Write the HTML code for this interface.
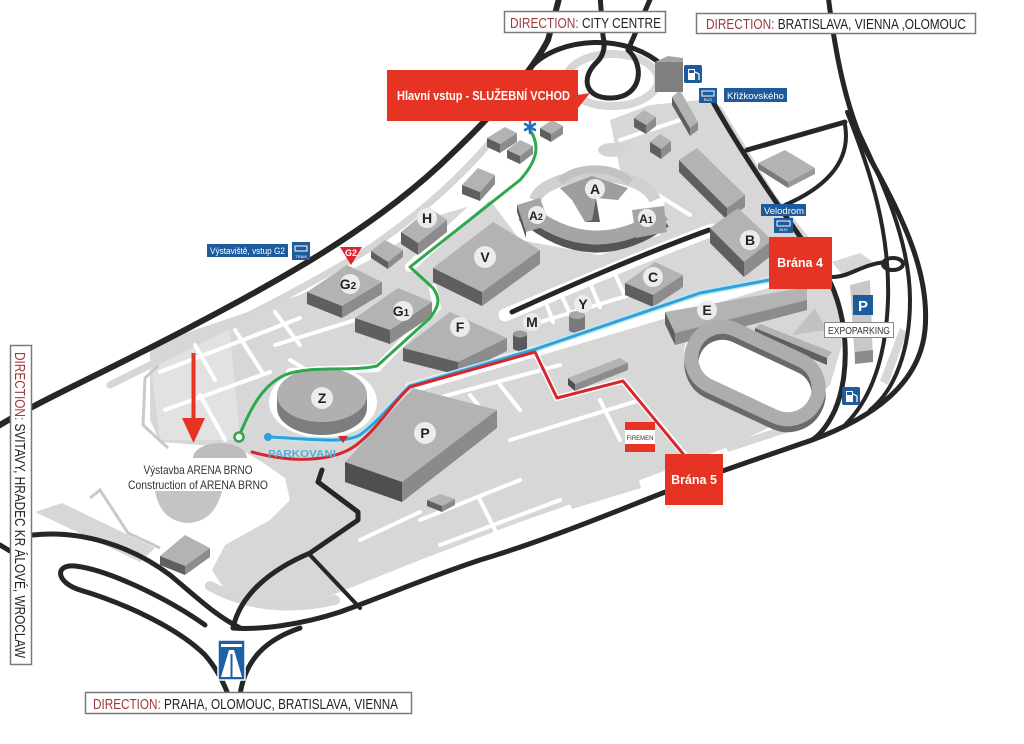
<!DOCTYPE html>
<html><head><meta charset="utf-8"><style>
html,body{margin:0;padding:0;background:#fff;}
svg{display:block;}
text{font-family:"Liberation Sans",sans-serif;}
</style></head><body>
<svg width="1024" height="744" viewBox="0 0 1024 744" xmlns="http://www.w3.org/2000/svg">
<rect width="1024" height="744" fill="#fff"/>

<!-- ground -->
<g fill="#d7d7d7">
<path d="M150,345 L230,318 L300,295 L380,255 L440,215 L490,200 L520,240 L600,255 L660,235 L665,200 L620,170 L610,120 L650,105 L700,100 L712,104 L745,160 L785,220 L820,268 L838,305 L842,345 L830,385 L800,412 L760,432 L720,450 L680,465 L640,480 L600,494 L560,508 L520,522 L470,541 L420,560 L370,580 L330,596 L290,604 L250,600 L225,590 L212,570 L225,545 L270,520 L290,500 L285,478 L262,462 L245,452 L225,447 L160,442 L150,420 Z"/>
<polygon points="35,512 62,503 155,548 140,562"/>
<polygon points="832,262 860,253 873,262 845,278"/>
<polygon points="900,328 907,332 888,385 880,381"/>
<polygon points="725,445 795,422 798,429 728,452"/>
<polygon points="569,502 639,480 641,488 572,509"/>
<polygon points="512,517 555,502 557,509 514,522"/>
</g>
<polygon points="150,360 230,330 240,440 160,440" fill="#e2e2e2"/>
<!-- light strips -->
<g fill="none" stroke="#d6d6d6" stroke-linecap="round">
<path d="M110,385 C 200,340 300,292 370,248 C 420,214 460,178 492,140" stroke-width="7"/>
<path d="M718,110 L772,198 L805,240" stroke-width="9"/>
<ellipse cx="612" cy="80" rx="46" ry="26" stroke-width="8"/>
<path d="M210,586 Q265,616 335,600" stroke-width="10"/>
</g>
<g fill="none" stroke="#c9c9c9" stroke-width="3">
<path d="M158,366 L145,378 L143,425 L168,448"/>
<path d="M90,498 L100,490 L128,533 L160,548"/>
</g>
<ellipse cx="612" cy="150" rx="14" ry="7" fill="#d3d3d3"/>

<!-- white lanes -->
<g fill="none" stroke="#fff" stroke-linecap="round">
<path d="M410,388 L533,352 L769,282" stroke-width="11"/>
<path d="M535,352 L557,398 L623,381 L684,454" stroke-width="6"/>
<path d="M537,150 L410,267" stroke-width="10"/>
<path d="M433,288 L437,307 L377,368 L290,372" stroke-width="8"/>
<path d="M505,315 C 560,292 640,257 712,230" stroke-width="13"/>
<g stroke-width="4">
<path d="M160,372 L300,318"/><path d="M195,345 L215,380"/><path d="M235,330 L262,372"/><path d="M275,312 L300,345"/>
<path d="M165,410 L270,372"/><path d="M200,395 L225,440"/>
<path d="M275,345 L355,320"/><path d="M290,360 L340,390"/>
<path d="M540,322 L640,292"/><path d="M560,292 L572,318"/><path d="M590,283 L600,307"/><path d="M615,274 L625,296"/><path d="M545,300 L553,322"/>
<path d="M430,400 L560,365"/><path d="M470,395 L490,420"/><path d="M500,385 L520,410"/>
<path d="M420,520 L520,480"/><path d="M360,540 L420,512"/><path d="M440,545 L560,500"/><path d="M480,500 L500,540"/>
<path d="M510,440 L640,400"/><path d="M600,400 L620,440"/>
<path d="M560,230 L600,250"/><path d="M650,190 L690,215"/><path d="M620,140 L680,120"/>
</g>
</g>
<ellipse cx="323" cy="402" rx="54" ry="36" fill="#fff"/>
<ellipse cx="755" cy="375" rx="76" ry="40" transform="rotate(25 755 375)" fill="#fff"/>

<!-- dark roads -->
<g fill="none" stroke="#262626" stroke-linecap="round" stroke-linejoin="round">
<path d="M-5,428 C 40,400 110,370 200,322 C 280,280 370,230 440,165 C 490,118 530,75 548,40 L 560,-5" stroke-width="6"/>
<path d="M533,65 C 560,38 625,32 662,65" stroke-width="5"/>
<path d="M652,-5 L628,50 C 645,65 642,97 612,98 C 585,99 580,78 597,62 C 603,56 606,48 603,36 L 600,-5" stroke-width="5"/>
<path d="M712,100 C 745,160 790,222 822,268 C 848,306 852,370 835,410 C 828,425 820,435 812,440" stroke-width="5"/>
<path d="M828,-5 C 836,60 848,118 872,162 C 905,222 930,275 925,330 C 920,380 880,415 812,440 C 760,458 700,478 650,498 C 580,526 530,545 480,560 C 420,580 380,598 340,612 C 300,625 260,630 233,628" stroke-width="5"/>
<path d="M847,112 C 870,170 890,230 888,300 C 886,360 870,400 845,425" stroke-width="4"/>
<path d="M852,118 C 882,180 910,240 910,300 C 910,350 895,390 870,410" stroke-width="4"/>
<path d="M747,150 L845,122" stroke-width="5"/>
<path d="M845,125 C 852,165 820,190 785,205" stroke-width="4"/>
<ellipse cx="893" cy="264" rx="10" ry="6" stroke-width="4"/>
<path d="M832,277 C 850,277 860,265 885,262" stroke-width="4"/>
<path d="M512,312 C 560,290 640,255 709,230" stroke-width="5"/>
<path d="M233,628 C 240,595 270,570 310,553 L 358,520 L 358,512 L 318,482 L 322,470" stroke-width="5"/>
<path d="M310,555 L360,608" stroke-width="4"/>
<path d="M33,535 C 80,530 130,545 170,575 C 200,600 215,615 240,628" stroke-width="5"/>
<path d="M205,625 C 170,600 110,570 75,566 C 55,564 55,582 80,590 C 130,605 180,630 205,655 C 218,670 225,685 230,700" stroke-width="5"/>
<path d="M240,695 C 245,660 265,640 300,628" stroke-width="5"/>
<path d="M0,545 L10,551" stroke-width="5"/>
</g>

<!-- arena shapes -->
<path d="M193,458 A27,15 0 0 1 247,458 Z" fill="#bdbdbd"/>
<path d="M155,491 L222,491 Q214,523 186,523 Q160,520 155,491 Z" fill="#c4c4c4"/>

<!-- buildings -->
<g>
<polygon points="433,268 493,222 540,250 482,292" fill="#b3b3b3"/>
<polygon points="433,268 482,292 482,306 433,282" fill="#5f5f5f"/>
<polygon points="482,292 540,250 540,264 482,306" fill="#8c8c8c"/>
<polygon points="401,232 430,208 447,220 418,243" fill="#b3b3b3"/>
<polygon points="401,232 418,243 418,255 401,244" fill="#5f5f5f"/>
<polygon points="418,243 447,220 447,232 418,255" fill="#8c8c8c"/>
<polygon points="371,251 385,240 403,250 388,262" fill="#b3b3b3"/>
<polygon points="371,251 388,262 388,269 371,258" fill="#5f5f5f"/>
<polygon points="388,262 403,250 403,257 388,269" fill="#8c8c8c"/>
<polygon points="307,292 347,265 382,282 342,306" fill="#b3b3b3"/>
<polygon points="307,292 342,306 342,318 307,304" fill="#5f5f5f"/>
<polygon points="342,306 382,282 382,294 342,318" fill="#8c8c8c"/>
<polygon points="355,318 398,288 432,302 390,330" fill="#b3b3b3"/>
<polygon points="355,318 390,330 390,344 355,332" fill="#5f5f5f"/>
<polygon points="390,330 432,302 432,316 390,344" fill="#8c8c8c"/>
<polygon points="403,348 450,312 507,338 458,362" fill="#b3b3b3"/>
<polygon points="403,348 458,362 458,375 403,361" fill="#5f5f5f"/>
<polygon points="458,362 507,338 507,351 458,375" fill="#8c8c8c"/>
<polygon points="625,283 655,262 683,275 653,295" fill="#b3b3b3"/>
<polygon points="625,283 653,295 653,307 625,295" fill="#5f5f5f"/>
<polygon points="653,295 683,275 683,287 653,307" fill="#8c8c8c"/>
<polygon points="679,160 697,148 745,195 727,208" fill="#b3b3b3"/>
<polygon points="679,160 727,208 727,220 679,172" fill="#5f5f5f"/>
<polygon points="727,208 745,195 745,207 727,220" fill="#8c8c8c"/>
<polygon points="710,228 738,208 772,240 744,262" fill="#b3b3b3"/>
<polygon points="710,228 744,262 744,277 710,243" fill="#5f5f5f"/>
<polygon points="744,262 772,240 772,255 744,277" fill="#8c8c8c"/>
<polygon points="758,163 785,150 815,168 788,182" fill="#b3b3b3"/>
<polygon points="758,163 788,182 788,188 758,169" fill="#7a7a7a"/>
<polygon points="788,182 815,168 815,174 788,188" fill="#999"/>
<polygon points="665,312 807,287 807,300 675,333" fill="#b3b3b3"/>
<polygon points="665,312 675,333 675,345 665,324" fill="#5f5f5f"/>
<polygon points="675,333 807,300 807,310 675,345" fill="#8c8c8c"/>
<polygon points="345,462 413,388 497,410 402,482" fill="#b3b3b3"/>
<polygon points="345,462 402,482 402,502 345,482" fill="#4f4f4f"/>
<polygon points="402,482 497,410 497,428 402,502" fill="#8a8a8a"/>
<polygon points="634,118 644,110 656,117 646,125" fill="#b3b3b3"/><polygon points="634,118 646,125 646,134 634,127" fill="#5f5f5f"/><polygon points="646,125 656,117 656,126 646,134" fill="#8c8c8c"/>
<polygon points="650,142 660,134 671,141 661,149" fill="#b3b3b3"/><polygon points="650,142 661,149 661,159 650,152" fill="#5f5f5f"/><polygon points="661,149 671,141 671,151 661,159" fill="#8c8c8c"/>
<polygon points="672,97 680,90 698,122 690,128" fill="#b3b3b3"/><polygon points="672,97 690,128 690,136 672,105" fill="#5f5f5f"/><polygon points="690,128 698,122 698,130 690,136" fill="#8c8c8c"/>
<polygon points="487,138 505,127 517,133 500,144" fill="#b3b3b3"/><polygon points="487,138 500,144 500,153 487,147" fill="#5f5f5f"/><polygon points="500,144 517,133 517,142 500,153" fill="#8c8c8c"/>
<polygon points="507,150 520,140 533,146 520,156" fill="#b3b3b3"/><polygon points="507,150 520,156 520,164 507,158" fill="#5f5f5f"/><polygon points="520,156 533,146 533,154 520,164" fill="#8c8c8c"/>
<polygon points="540,128 552,120 563,126 551,134" fill="#b3b3b3"/><polygon points="540,128 551,134 551,142 540,136" fill="#5f5f5f"/><polygon points="551,134 563,126 563,134 551,142" fill="#8c8c8c"/>
<polygon points="462,185 478,168 495,175 480,192" fill="#b3b3b3"/><polygon points="462,185 480,192 480,201 462,194" fill="#5f5f5f"/><polygon points="480,192 495,175 495,184 480,201" fill="#8c8c8c"/>
<polygon points="160,556 185,535 210,548 185,566" fill="#b3b3b3"/><polygon points="160,556 185,566 185,575 160,565" fill="#5f5f5f"/><polygon points="185,566 210,548 210,557 185,575" fill="#8c8c8c"/>
<polygon points="427,500 440,494 455,499 442,506" fill="#b3b3b3"/><polygon points="427,500 442,506 442,512 427,506" fill="#5f5f5f"/><polygon points="442,506 455,499 455,505 442,512" fill="#8c8c8c"/>
<polygon points="568,378 620,358 628,363 575,384" fill="#b3b3b3"/><polygon points="568,378 575,384 575,391 568,385" fill="#4f4f4f"/><polygon points="575,384 628,363 628,370 575,391" fill="#8c8c8c"/>
<polygon points="755,328 760,324 832,352 827,358" fill="#b3b3b3"/><polygon points="755,328 827,358 827,365 755,335" fill="#5f5f5f"/>
<polygon points="792,335 815,308 827,330" fill="#c2c2c2"/>
<polygon points="850,285 870,280 873,360 855,363" fill="#c8c8c8"/><polygon points="855,352 873,350 873,362 855,364" fill="#8c8c8c"/>
<rect x="655" y="62" width="28" height="30" fill="#7f7f7f"/>
<polygon points="655,62 668,56 683,58 683,62" fill="#a5a5a5"/>
<rect x="513" y="334" width="14" height="14" fill="#5a5a5a"/><ellipse cx="520" cy="348" rx="7" ry="3" fill="#5a5a5a"/><ellipse cx="520" cy="334" rx="7" ry="3.5" fill="#9a9a9a"/>
<rect x="569" y="315" width="16" height="15" fill="#7a7a7a"/><ellipse cx="577" cy="330" rx="8" ry="3" fill="#7a7a7a"/><ellipse cx="577" cy="315" rx="8" ry="4" fill="#a8a8a8"/>
<ellipse cx="322" cy="408" rx="45" ry="27" fill="#7d7d7d"/>
<rect x="277" y="395" width="90" height="13" fill="#7d7d7d"/>
<ellipse cx="322" cy="395" rx="45" ry="27" fill="#b0b0b0"/>
<!-- A complex -->
<path d="M535,200 C 545,170 640,165 655,200" fill="none" stroke="#d0d0d0" stroke-width="12"/>
<path d="M560,182 C 575,165 615,165 630,182" fill="none" stroke="#c2c2c2" stroke-width="8"/>
<path d="M524,214 Q592,272 664,220" fill="none" stroke="#555" stroke-width="16"/>
<path d="M524,208 Q592,264 664,214" fill="none" stroke="#a5a5a5" stroke-width="14"/>
<polygon points="560,188 592,176 628,188 618,200 596,198 592,220 585,222 572,200" fill="#9e9e9e"/>
<polygon points="585,222 592,220 596,198 600,222" fill="#5f5f5f"/>
<polygon points="517,205 540,198 550,225 526,232" fill="#a5a5a5"/>
<polygon points="517,205 526,232 526,238 517,212" fill="#555"/>
<polygon points="632,210 664,206 667,232 636,238" fill="#a5a5a5"/>
<!-- velodrome -->
<rect x="688" y="348" width="134" height="62" rx="31" transform="rotate(25 755 379)" fill="none" stroke="#6a6a6a" stroke-width="14"/>
<rect x="688" y="342" width="134" height="62" rx="31" transform="rotate(25 755 373)" fill="none" stroke="#adadad" stroke-width="14"/>
</g>

<!-- routes -->
<g fill="none" stroke-linecap="round" stroke-linejoin="round">
<path d="M530,130 C 540,145 538,160 520,180 L 410,267 L 433,288 C 440,298 440,305 430,318 L 377,366 C 350,372 310,365 285,375 C 262,385 250,410 240,434" stroke="#2ea84f" stroke-width="3"/>
<path d="M769,280 L700,293 L533,350 L410,386 C 395,400 380,420 360,435 C 345,443 320,440 271,437" stroke="#bfe6f5" stroke-width="6"/>
<path d="M769,280 L700,293 L533,350 L410,386 C 395,400 380,420 360,435 C 345,443 320,440 271,437" stroke="#2ea2d6" stroke-width="3"/>
<path d="M684,455 L623,381 L557,398 L535,352 L410,387 C 395,400 380,425 360,442 C 340,460 300,465 252,452" stroke="#d8262a" stroke-width="3"/>
</g>
<circle cx="239" cy="437" r="4.5" fill="#fff" stroke="#2ea84f" stroke-width="2.5"/>
<circle cx="268" cy="437" r="4" fill="#2ea2d6"/>
<polygon points="338,436 348,436 343,443" fill="#d8262a"/>
<text x="268" y="457" font-size="10.5" font-weight="bold" fill="#4fb0dc" textLength="68" lengthAdjust="spacingAndGlyphs">PARKOVANI</text>

<g fill="#ececec">
<circle cx="427" cy="218" r="10"/><circle cx="485" cy="257" r="11"/><circle cx="350" cy="284" r="10"/>
<circle cx="403" cy="311" r="10"/><circle cx="460" cy="327" r="10"/><circle cx="532" cy="322" r="9"/>
<circle cx="583" cy="304" r="9"/><circle cx="653" cy="277" r="10"/><circle cx="750" cy="240" r="10"/>
<circle cx="707" cy="310" r="10"/><circle cx="595" cy="189" r="10"/><circle cx="537" cy="215" r="9"/>
<circle cx="647" cy="218" r="9"/><circle cx="322" cy="398" r="11"/><circle cx="425" cy="433" r="11"/>
</g>
<g font-size="14" font-weight="bold" fill="#222" text-anchor="middle">
<text x="427" y="223">H</text><text x="485" y="262">V</text>
<text x="348" y="289">G<tspan font-size="10">2</tspan></text>
<text x="401" y="316">G<tspan font-size="10">1</tspan></text>
<text x="460" y="332">F</text><text x="532" y="327">M</text><text x="583" y="309">Y</text>
<text x="653" y="282">C</text><text x="750" y="245">B</text><text x="707" y="315">E</text>
<text x="595" y="194">A</text>
<text x="536" y="220" font-size="12">A<tspan font-size="9">2</tspan></text>
<text x="646" y="223" font-size="12">A<tspan font-size="9">1</tspan></text>
<text x="322" y="403">Z</text><text x="425" y="438">P</text>
</g>

<polygon points="340,247 362,247 351,265" fill="#d8262a"/>
<text x="351" y="256" font-size="9" font-weight="bold" fill="#fff" text-anchor="middle">G2</text>

<g stroke="#1d6fc0" stroke-width="2.5" stroke-linecap="round">
<line x1="530" y1="121" x2="530" y2="133"/><line x1="525" y1="124" x2="535" y2="130"/><line x1="525" y1="130" x2="535" y2="124"/>
</g>

<rect x="387" y="70" width="191" height="51" fill="#e63323"/>
<polygon points="578,95 590,93 578,108" fill="#e63323"/>
<text x="397" y="100" font-size="12.5" font-weight="bold" fill="#fff" textLength="173" lengthAdjust="spacingAndGlyphs">Hlavní vstup - SLUŽEBNÍ VCHOD</text>
<rect x="769" y="237" width="63" height="52" fill="#e63323"/>
<text x="800" y="267" font-size="12.5" font-weight="bold" fill="#fff" text-anchor="middle">Brána 4</text>
<rect x="665" y="454" width="58" height="51" fill="#e63323"/>
<text x="694" y="484" font-size="12.5" font-weight="bold" fill="#fff" text-anchor="middle">Brána 5</text>

<rect x="625" y="422" width="30" height="8" fill="#e63323"/>
<rect x="625" y="430" width="30" height="14" fill="#fff"/>
<rect x="625" y="444" width="30" height="8" fill="#e63323"/>
<text x="640" y="440" font-size="6.5" fill="#333" text-anchor="middle" textLength="27" lengthAdjust="spacingAndGlyphs">FIREMEN</text>

<line x1="193.5" y1="353" x2="193.5" y2="420" stroke="#e63323" stroke-width="4"/>
<polygon points="182,418 205,418 193.5,443" fill="#e63323"/>
<text x="198" y="474" font-size="12" fill="#333" text-anchor="middle" textLength="109" lengthAdjust="spacingAndGlyphs">Výstavba ARENA BRNO</text>
<text x="198" y="489" font-size="12" fill="#333" text-anchor="middle" textLength="140" lengthAdjust="spacingAndGlyphs">Construction of ARENA BRNO</text>

<rect x="207" y="244" width="81" height="13" fill="#1d5b9c"/>
<text x="210" y="254" font-size="9" fill="#fff" textLength="75" lengthAdjust="spacingAndGlyphs">Výstaviště, vstup G2</text>
<rect x="292" y="242" width="18" height="18" fill="#1d5b9c"/>
<rect x="295" y="246" width="12" height="5" fill="none" stroke="#fff" stroke-width="1"/>
<text x="301" y="258" font-size="4" fill="#fff" text-anchor="middle">TRAM</text>
<rect x="724" y="88" width="63" height="14" fill="#1d5b9c"/>
<text x="727" y="99" font-size="9.5" fill="#fff" textLength="57" lengthAdjust="spacingAndGlyphs">Křižkovského</text>
<rect x="699" y="88" width="18" height="15" fill="#1d5b9c"/>
<rect x="702" y="91" width="12" height="5" fill="none" stroke="#fff" stroke-width="1"/>
<text x="708" y="101" font-size="4" fill="#fff" text-anchor="middle">BUS</text>
<rect x="761" y="204" width="45" height="12" fill="#1d5b9c"/>
<text x="764" y="214" font-size="9.5" fill="#fff" textLength="40" lengthAdjust="spacingAndGlyphs">Velodrom</text>
<rect x="774" y="218" width="19" height="15" fill="#1d5b9c"/>
<rect x="777" y="221" width="13" height="5" fill="none" stroke="#fff" stroke-width="1"/>
<text x="783.5" y="231" font-size="4" fill="#fff" text-anchor="middle">BUS</text>
<rect x="684" y="65" width="18" height="18" rx="2" fill="#1d5b9c"/>
<rect x="688" y="69" width="7" height="11" fill="#fff"/><rect x="689" y="70" width="5" height="3" fill="#1d5b9c"/>
<path d="M695,72 L699,74 L699,80" fill="none" stroke="#fff" stroke-width="1.2"/>
<rect x="842" y="387" width="18" height="18" rx="2" fill="#1d5b9c"/>
<rect x="846" y="391" width="7" height="11" fill="#fff"/><rect x="847" y="392" width="5" height="3" fill="#1d5b9c"/>
<path d="M853,394 L857,396 L857,402" fill="none" stroke="#fff" stroke-width="1.2"/>
<rect x="853" y="295" width="20" height="20" fill="#1d5b9c"/>
<text x="863" y="311" font-size="15" font-weight="bold" fill="#fff" text-anchor="middle">P</text>
<rect x="824.5" y="322.5" width="69" height="15" fill="#fff" stroke="#888" stroke-width="1"/>
<text x="828" y="334" font-size="10" fill="#333" textLength="62" lengthAdjust="spacingAndGlyphs">EXPOPARKING</text>
<rect x="218" y="640" width="27" height="40" fill="#1f5fa8" stroke="#fff" stroke-width="1.5"/>
<polygon points="221,677 229,650 234,650 242,677" fill="#fff"/>
<rect x="221" y="644" width="21" height="3" fill="#fff"/>
<line x1="231.5" y1="654" x2="231.5" y2="677" stroke="#1f5fa8" stroke-width="2"/>

<rect x="504.5" y="11.5" width="161" height="21" fill="#fff" stroke="#7a7a7a" stroke-width="1.5"/>
<text x="510" y="28" font-size="15" textLength="151" lengthAdjust="spacingAndGlyphs"><tspan fill="#9c3b3b">DIRECTION:</tspan><tspan fill="#222"> CITY CENTRE</tspan></text>
<rect x="696.5" y="13.5" width="279" height="20" fill="#fff" stroke="#7a7a7a" stroke-width="1.5"/>
<text x="706" y="29" font-size="15" textLength="260" lengthAdjust="spacingAndGlyphs"><tspan fill="#9c3b3b">DIRECTION:</tspan><tspan fill="#222"> BRATISLAVA, VIENNA ,OLOMOUC</tspan></text>
<rect x="85.5" y="692.5" width="326" height="21" fill="#fff" stroke="#7a7a7a" stroke-width="1.5"/>
<text x="93" y="709" font-size="15" textLength="305" lengthAdjust="spacingAndGlyphs"><tspan fill="#9c3b3b">DIRECTION:</tspan><tspan fill="#222"> PRAHA, OLOMOUC, BRATISLAVA, VIENNA</tspan></text>
<rect x="10.5" y="345.5" width="21" height="319" fill="#fff" stroke="#7a7a7a" stroke-width="1.5"/>
<text transform="translate(15,352) rotate(90)" font-size="15" textLength="306" lengthAdjust="spacingAndGlyphs"><tspan fill="#9c3b3b">DIRECTION:</tspan><tspan fill="#222"> SVITAVY, HRADEC KR ÁLOVÉ, WROCLAW</tspan></text>
</svg>
</body></html>
